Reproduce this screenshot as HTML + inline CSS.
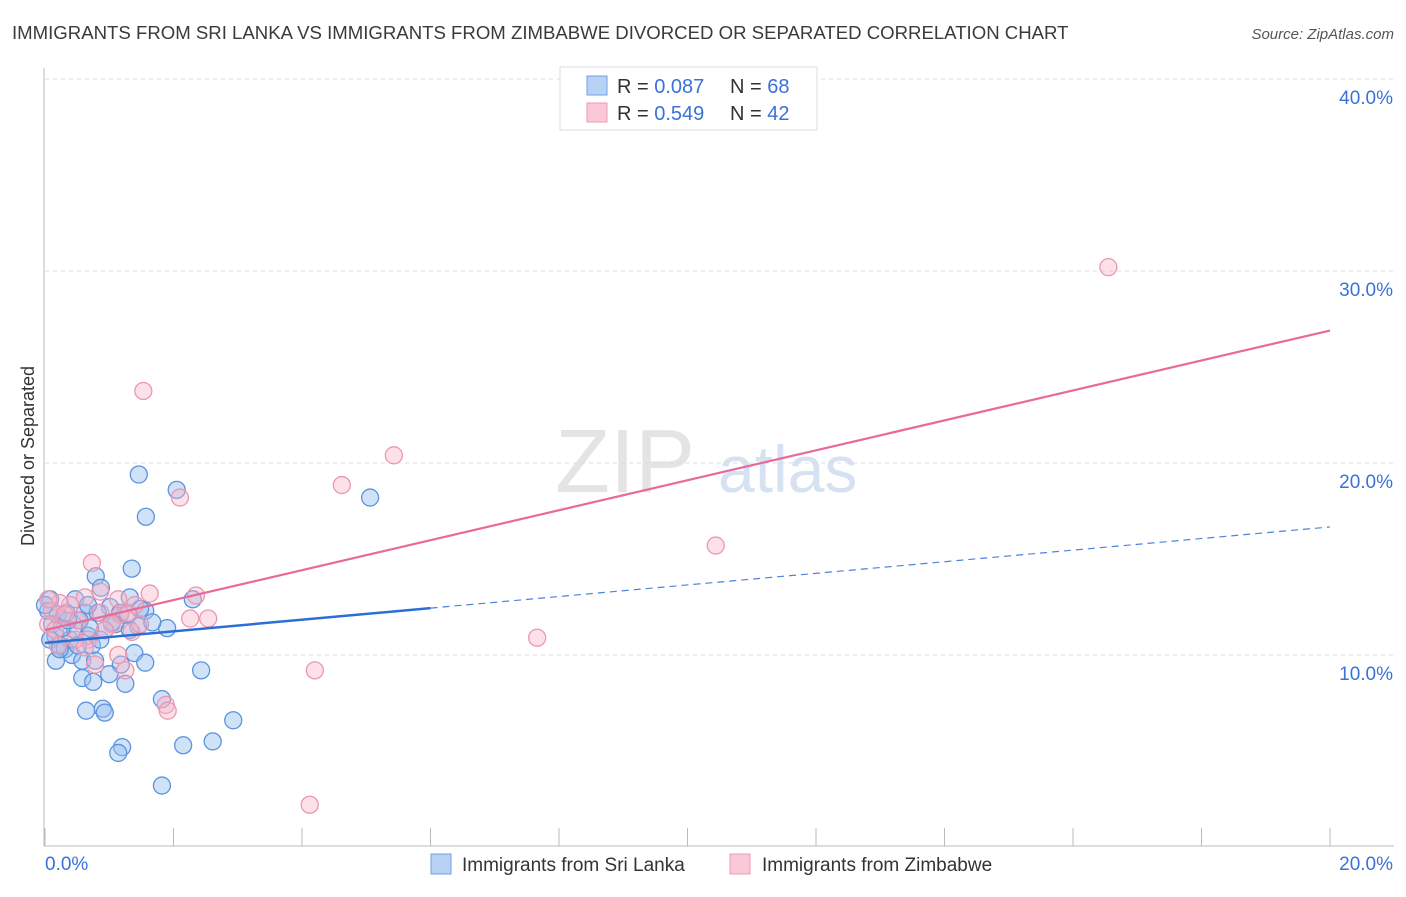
<!DOCTYPE html>
<html><head><meta charset="utf-8"><style>
body{margin:0;background:#fff;font-family:"Liberation Sans",sans-serif;}
svg text{font-family:"Liberation Sans",sans-serif;}
</style></head><body>
<svg id="chart" width="1406" height="892" xmlns="http://www.w3.org/2000/svg">
<text x="12" y="39" font-size="18.6" fill="#3a3a3a">IMMIGRANTS FROM SRI LANKA VS IMMIGRANTS FROM ZIMBABWE DIVORCED OR SEPARATED CORRELATION CHART</text>
<text x="1394" y="39" font-size="15" fill="#555" font-style="italic" text-anchor="end">Source: ZipAtlas.com</text>
<text x="34" y="456" font-size="18" fill="#333" text-anchor="middle" transform="rotate(-90 34 456)">Divorced or Separated</text>
<text x="555" y="492" font-size="90" fill="#e4e4e4" font-family="Liberation Serif">ZIP</text>
<text x="718" y="492" font-size="66" fill="#d6e2f2">atlas</text>
<g id="grid"></g><g id="axes"></g><g id="pts"></g><g id="lines"></g>
<g>
<rect x="560" y="67" width="257" height="63" fill="#fff" stroke="#ddd"/>
<rect x="587" y="76" width="20" height="19" fill="#b8d2f5" stroke="#6fa0e0"/>
<rect x="587" y="103" width="20" height="19" fill="#fac8d6" stroke="#ee9ab2"/>
<text x="617" y="93" font-size="20" fill="#333">R = <tspan fill="#3a72d8">0.087</tspan></text>
<text x="730" y="93" font-size="20" fill="#333">N = <tspan fill="#3a72d8">68</tspan></text>
<text x="617" y="120" font-size="20" fill="#333">R = <tspan fill="#3a72d8">0.549</tspan></text>
<text x="730" y="120" font-size="20" fill="#333">N = <tspan fill="#3a72d8">42</tspan></text>
</g>
<g>
<rect x="431" y="854" width="20" height="20" fill="#b8d2f5" stroke="#6fa0e0"/>
<text x="462" y="871" font-size="19" fill="#333">Immigrants from Sri Lanka</text>
<rect x="730" y="854" width="20" height="20" fill="#fac8d6" stroke="#ee9ab2"/>
<text x="762" y="871" font-size="19" fill="#333">Immigrants from Zimbabwe</text>
</g>
</svg>
<script>
const yTicks=[10,20,30,40];
const yTickLabels=["10.0%","20.0%","30.0%","40.0%"];
const xTickLabels=["0.0%","20.0%"];
const blueX=[1.46,1.57,2.05,5.06,1.35,0.79,0.87,1.32,1.56,2.30,1.01,0.62,1.09,1.45,1.90,0.08,0.05,0.11,0.16,0.23,0.31,0.39,0.47,0.54,0.67,0.73,0.86,0.93,1.17,1.29,0.26,0.20,0.42,0.58,0.78,1.39,1.56,1.18,2.43,0.58,0.75,1.25,1.00,1.82,0.64,0.90,0.93,2.93,2.15,2.61,1.20,1.14,1.82,0.0,0.08,0.36,0.51,0.70,1.04,0.17,0.33,0.82,1.48,1.67,0.47,0.67,1.32,0.23];
const blueY=[19.4,17.2,18.6,18.2,14.5,14.1,13.5,13.0,12.3,12.9,12.5,12.2,11.6,11.5,11.4,12.9,12.3,11.6,11.0,10.5,10.3,10.8,11.3,11.8,11.0,10.5,10.8,11.3,12.2,12.1,11.4,12.1,10.0,9.7,9.7,10.1,9.6,9.5,9.2,8.8,8.6,8.5,9.0,7.7,7.1,7.2,7.0,6.6,5.3,5.5,5.2,4.9,3.2,12.6,10.8,11.8,10.5,11.4,11.7,9.7,12.2,12.2,12.4,11.7,12.9,12.6,11.3,10.3];
const pinkX=[16.55,1.53,5.43,4.62,2.10,10.44,0.73,1.63,2.35,7.66,4.20,4.12,1.88,1.91,2.54,2.26,1.35,1.17,1.04,0.86,0.62,0.39,0.23,0.11,0.05,0.16,0.31,0.51,0.67,0.78,1.14,1.25,0.93,1.40,1.14,1.29,0.47,0.20,0.05,0.86,0.62,1.48];
const pinkY=[30.2,23.75,20.4,18.85,18.2,15.7,14.8,13.2,13.1,10.9,9.2,2.2,7.4,7.1,11.9,11.9,11.2,12.1,11.6,13.3,13.0,12.6,12.7,12.3,11.6,11.3,12.1,11.8,10.8,9.5,10.0,9.2,11.3,12.6,12.9,12.2,10.8,10.5,12.9,12.2,10.4,11.6];
const trendPink=[11.3,26.9];
const trendBlue=[10.63,16.67];
const blueSolidEnd=6.0;
const NS="http://www.w3.org/2000/svg";
const sx=v=>45+v/20*1285, sy=v=>847-v*19.2;
function mk(t,a,p){const e=document.createElementNS(NS,t);for(const k in a)e.setAttribute(k,a[k]);p.appendChild(e);return e;}
const grid=document.getElementById('grid'),axes=document.getElementById('axes');
yTicks.forEach((t,i)=>{
 const l=mk('line',{x1:45,x2:1394,y1:sy(t),y2:sy(t),stroke:'#ddd','stroke-dasharray':'4,4'},grid);
 
 
 const tx=mk('text',{x:1393,y:sy(t)+25,'font-size':19,fill:'#3a72d8','text-anchor':'end'},axes);
 tx.textContent=yTickLabels[i];
 
 
});
mk('line',{x1:44,x2:44,y1:68,y2:846,stroke:'#bbb'},axes);
mk('line',{x1:44,x2:1394,y1:846,y2:846,stroke:'#bbb'},axes);
for(let i=0;i<=10;i++){const x=sx(i*2);mk('line',{x1:x,x2:x,y1:828,y2:846,stroke:'#bbb'},axes);}
[[0,'start',45],[1,'end',1393]].forEach(([i,a,x])=>{
 const tx=mk('text',{x:x,y:870,'font-size':19,fill:'#3a72d8','text-anchor':a},axes);
 tx.textContent=xTickLabels[i];
 
 
});
const pts=document.getElementById('pts');
blueX.forEach((v,i)=>{
 const c=mk('circle',{cx:sx(v),cy:sy(blueY[i]),r:8.5,fill:'rgba(150,190,240,0.45)',stroke:'#5b93dd','stroke-width':1.3},pts);
 
 
});
pinkX.forEach((v,i)=>{
 const c=mk('circle',{cx:sx(v),cy:sy(pinkY[i]),r:8.5,fill:'rgba(248,180,200,0.4)',stroke:'#ec97b0','stroke-width':1.3},pts);
 
 
});
const ln=document.getElementById('lines');
const bAt=x=>trendBlue[0]+(trendBlue[1]-trendBlue[0])*x/20;
const p=mk('line',{x1:sx(0),y1:sy(trendPink[0]),x2:sx(20),y2:sy(trendPink[1]),stroke:'#e8699a','stroke-width':2.2},ln);


const b1=mk('line',{x1:sx(0),y1:sy(bAt(0)),x2:sx(blueSolidEnd),y2:sy(bAt(blueSolidEnd)),stroke:'#2a6fd6','stroke-width':2.5},ln);


const b2=mk('line',{x1:sx(blueSolidEnd),y1:sy(bAt(blueSolidEnd)),x2:sx(20),y2:sy(bAt(20)),stroke:'#4a84dc','stroke-width':1.2,'stroke-dasharray':'7,5'},ln);


</script>
</body></html>
